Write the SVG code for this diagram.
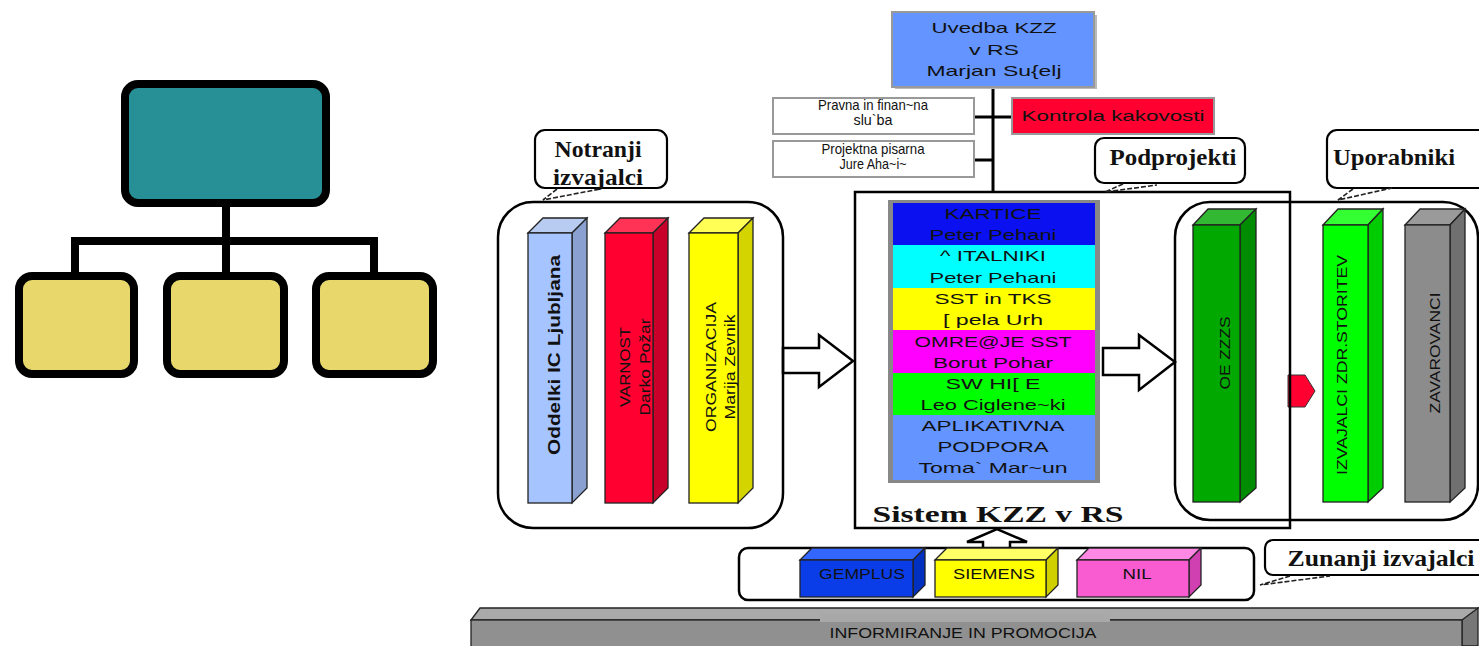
<svg xmlns="http://www.w3.org/2000/svg" width="1479" height="646" viewBox="0 0 1479 646">
<style>
.t{font-family:"Liberation Sans",Arial,sans-serif;fill:#111;font-size:15px}
.tb{font-family:"Liberation Sans",Arial,sans-serif;fill:#111;font-size:16px;font-weight:bold}
.s{font-family:"Liberation Serif","Times New Roman",serif;font-weight:bold;fill:#111;font-size:24px}
.bubble{fill:#fff;stroke:#000;stroke-width:2.2}
.tail{fill:none;stroke:#222;stroke-width:1.6;stroke-dasharray:5 2}
.ln{stroke:#000;stroke-width:3;fill:none}
.blk{stroke:#222;stroke-width:1.3}
.icon{stroke:#000;stroke-width:8}
.arrow{fill:#fff;stroke:#000;stroke-width:2.5;stroke-linejoin:miter}
.cont{fill:none;stroke:#000;stroke-width:2.5}
.box{stroke:#999;stroke-width:2}
</style>

<!-- Left org-chart icon -->
<g id="icon">
  <g class="icon" fill="none">
    <line x1="226" y1="205" x2="226" y2="272"/>
    <polyline points="75,272 75,241 374,241 374,272"/>
  </g>
  <rect x="125" y="84" width="201" height="119" rx="13" fill="#278F96" class="icon"/>
  <rect x="22" y="279" width="115" height="98" rx="13" fill="#555" opacity="0.35"/>
  <rect x="170" y="279" width="117" height="98" rx="13" fill="#555" opacity="0.35"/>
  <rect x="319" y="279" width="117" height="98" rx="13" fill="#555" opacity="0.35"/>
  <rect x="19" y="276" width="115" height="98" rx="13" fill="#E8D86C" class="icon"/>
  <rect x="167" y="276" width="117" height="98" rx="13" fill="#E8D86C" class="icon"/>
  <rect x="316" y="276" width="117" height="98" rx="13" fill="#E8D86C" class="icon"/>
</g>

<!-- Connectors -->
<g id="connectors">
  <line class="ln" x1="993" y1="87" x2="993" y2="192"/>
  <line class="ln" x1="974" y1="117" x2="1012" y2="117"/>
  <line class="ln" x1="974" y1="160" x2="993" y2="160"/>
  <polygon class="arrow" points="783,348 819,348 819,335 853,361 819,387 819,373 783,373"/>
  <polygon class="arrow" points="1103,348 1139,348 1139,335 1175,362 1139,390 1139,375 1103,375"/>
  <polygon class="arrow" points="983,549 983,542 967,542 997,529 1027,542 1010,542 1010,549"/>
  <polygon points="1288,375 1305,375 1315,391 1305,407 1288,407" fill="#FF0030" stroke="#333" stroke-width="1"/>
</g>

<!-- Top box -->
<g id="uvedba">
  <rect x="895" y="15" width="202" height="74" fill="#bbb"/>
  <rect x="892" y="12" width="202" height="75" fill="#6394FF" class="box"/>
  <text class="t" font-size="14" x="994" y="33" text-anchor="middle" textLength="125" lengthAdjust="spacingAndGlyphs">Uvedba KZZ</text>
  <text class="t" font-size="14" x="994" y="55" text-anchor="middle" textLength="50" lengthAdjust="spacingAndGlyphs">v RS</text>
  <text class="t" font-size="14" x="994" y="76" text-anchor="middle" textLength="135" lengthAdjust="spacingAndGlyphs">Marjan Su{elj</text>
</g>

<g id="pravna">
  <rect x="773" y="98" width="201" height="36" fill="#fff" class="box"/>
  <text class="t" font-size="9" x="873" y="110" text-anchor="middle" textLength="110" lengthAdjust="spacingAndGlyphs">Pravna in finan~na</text>
  <text class="t" font-size="9" x="873" y="125" text-anchor="middle" textLength="39" lengthAdjust="spacingAndGlyphs">slu`ba</text>
</g>

<g id="pisarna">
  <rect x="773" y="141" width="201" height="36" fill="#fff" class="box"/>
  <text class="t" font-size="9" x="873" y="154" text-anchor="middle" textLength="103" lengthAdjust="spacingAndGlyphs">Projektna pisarna</text>
  <text class="t" font-size="9" x="873" y="169" text-anchor="middle" textLength="67" lengthAdjust="spacingAndGlyphs">Jure Aha~i~</text>
</g>

<g id="kontrola">
  <rect x="1012" y="98" width="202" height="36" fill="#FF0030" class="box"/>
  <text class="t" font-size="14" x="1113" y="121" text-anchor="middle" textLength="183" lengthAdjust="spacingAndGlyphs">Kontrola kakovosti</text>
</g>

<!-- Notranji izvajalci -->
<g id="notranji-callout">
  <rect class="bubble" x="535" y="130" width="132" height="58" rx="10"/>
  <path class="tail" d="M557,189 L543,200 L600,189"/>
  <text class="s" x="598" y="157" text-anchor="middle" textLength="87" lengthAdjust="spacingAndGlyphs">Notranji</text>
  <text class="s" x="598" y="185" text-anchor="middle" textLength="90" lengthAdjust="spacingAndGlyphs">izvajalci</text>
</g>

<g id="notranji">
  <rect class="cont" x="498" y="202" width="285" height="326" rx="35"/>
  <g class="blk">
    <polygon points="528,233 543,218 587,218 572,233" fill="#B8CCF2"/>
    <polygon points="572,233 587,218 587,488 572,503" fill="#8AA0D0"/>
    <rect x="528" y="233" width="44" height="270" fill="#A6C4FF"/>
  </g>
  <text class="tb" transform="translate(560,355) rotate(-90)" text-anchor="middle" textLength="200" lengthAdjust="spacingAndGlyphs">Oddelki IC Ljubljana</text>
</g>

<g id="varnost">
  <g class="blk">
    <polygon points="605,233 620,218 668,218 653,233" fill="#FF3355"/>
    <polygon points="653,233 668,218 668,488 653,503" fill="#C8002A"/>
    <rect x="605" y="233" width="48" height="270" fill="#FF0030"/>
  </g>
  <text class="t" transform="translate(630,367) rotate(-90)" text-anchor="middle" textLength="80" lengthAdjust="spacingAndGlyphs">VARNOST</text>
  <text class="t" transform="translate(650,367) rotate(-90)" text-anchor="middle" textLength="97" lengthAdjust="spacingAndGlyphs">Darko Požar</text>
</g>

<g id="organizacija">
  <g class="blk">
    <polygon points="689,233 704,218 753,218 738,233" fill="#FFFF55"/>
    <polygon points="738,233 753,218 753,488 738,503" fill="#D4D400"/>
    <rect x="689" y="233" width="49" height="270" fill="#FFFF00"/>
  </g>
  <text class="t" transform="translate(716,367) rotate(-90)" text-anchor="middle" textLength="130" lengthAdjust="spacingAndGlyphs">ORGANIZACIJA</text>
  <text class="t" transform="translate(735,367) rotate(-90)" text-anchor="middle" textLength="105" lengthAdjust="spacingAndGlyphs">Marija Zevnik</text>
</g>

<!-- Sistem KZZ v RS -->
<g id="sistem">
  <rect class="cont" x="855" y="192" width="435" height="336"/>
  <rect x="888" y="200" width="212" height="283" fill="#888"/>
  <rect x="893" y="203" width="202" height="42" fill="#0A10F0"/>
  <rect x="893" y="245" width="202" height="43" fill="#00FFFF"/>
  <rect x="893" y="288" width="202" height="42" fill="#FFFF00"/>
  <rect x="893" y="330" width="202" height="43" fill="#FF00FF"/>
  <rect x="893" y="373" width="202" height="42" fill="#00FF00"/>
  <rect x="893" y="415" width="202" height="65" fill="#6394FF"/>
  <g text-anchor="middle">
    <text class="t" x="993" y="219" textLength="97" lengthAdjust="spacingAndGlyphs">KARTICE</text>
    <text class="t" x="993" y="240" textLength="127" lengthAdjust="spacingAndGlyphs">Peter Pehani</text>
    <text class="t" x="993" y="261" textLength="106" lengthAdjust="spacingAndGlyphs">^ ITALNIKI</text>
    <text class="t" x="993" y="283" textLength="127" lengthAdjust="spacingAndGlyphs">Peter Pehani</text>
    <text class="t" x="993" y="304" textLength="117" lengthAdjust="spacingAndGlyphs">SST in TKS</text>
    <text class="t" x="993" y="325" textLength="100" lengthAdjust="spacingAndGlyphs">[ pela Urh</text>
    <text class="t" x="993" y="347" textLength="157" lengthAdjust="spacingAndGlyphs">OMRE@JE SST</text>
    <text class="t" x="993" y="368" textLength="120" lengthAdjust="spacingAndGlyphs">Borut Pohar</text>
    <text class="t" x="993" y="389" textLength="95" lengthAdjust="spacingAndGlyphs">SW HI[ E</text>
    <text class="t" x="993" y="410" textLength="145" lengthAdjust="spacingAndGlyphs">Leo Ciglene~ki</text>
    <text class="t" x="993" y="431" textLength="143" lengthAdjust="spacingAndGlyphs">APLIKATIVNA</text>
    <text class="t" x="993" y="452" textLength="111" lengthAdjust="spacingAndGlyphs">PODPORA</text>
    <text class="t" x="993" y="473" textLength="149" lengthAdjust="spacingAndGlyphs">Toma`  Mar~un</text>
  </g>
  <text class="s" font-size="33" x="998" y="522" text-anchor="middle" textLength="251" lengthAdjust="spacingAndGlyphs">Sistem KZZ v RS</text>
</g>

<g id="podprojekti-callout">
  <rect class="bubble" x="1095" y="138" width="150" height="45" rx="9"/>
  <path class="tail" d="M1123,184 L1105,192 L1157,185"/>
  <text class="s" x="1173" y="165" text-anchor="middle" textLength="127" lengthAdjust="spacingAndGlyphs">Podprojekti</text>
</g>

<!-- Uporabniki -->
<g id="uporabniki-callout">
  <rect class="bubble" x="1327" y="130" width="170" height="58" rx="10"/>
  <path class="tail" d="M1353,189 L1338,200 L1392,188"/>
  <text class="s" x="1394" y="165" text-anchor="middle" textLength="122" lengthAdjust="spacingAndGlyphs">Uporabniki</text>
</g>

<g id="uporabniki">
  <rect class="cont" x="1175" y="202" width="303" height="318" rx="35"/>
</g>

<g id="oe-zzzs">
  <g class="blk">
    <polygon points="1193,225 1208,209 1256,209 1240,225" fill="#33B833"/>
    <polygon points="1240,225 1256,209 1256,488 1240,502" fill="#008C00"/>
    <rect x="1193" y="225" width="47" height="277" fill="#00A800"/>
  </g>
  <text class="t" transform="translate(1230,353) rotate(-90)" text-anchor="middle" textLength="73" lengthAdjust="spacingAndGlyphs">OE ZZZS</text>
</g>

<g id="izvajalci">
  <g class="blk">
    <polygon points="1323,225 1338,209 1383,209 1368,225" fill="#33FF33"/>
    <polygon points="1368,225 1383,209 1383,488 1368,502" fill="#00CC00"/>
    <rect x="1323" y="225" width="45" height="277" fill="#00FF00"/>
  </g>
  <text class="t" transform="translate(1347,365) rotate(-90)" text-anchor="middle" textLength="220" lengthAdjust="spacingAndGlyphs">IZVAJALCI ZDR.STORITEV</text>
</g>

<g id="zavarovanci">
  <g class="blk">
    <polygon points="1405,225 1420,209 1465,209 1450,225" fill="#9A9A9A"/>
    <polygon points="1450,225 1465,209 1465,488 1450,502" fill="#707070"/>
    <rect x="1405" y="225" width="45" height="277" fill="#8C8C8C"/>
  </g>
  <text class="t" transform="translate(1440,353) rotate(-90)" text-anchor="middle" textLength="121" lengthAdjust="spacingAndGlyphs">ZAVAROVANCI</text>
</g>

<!-- Zunanji izvajalci -->
<g id="zunanji">
  <rect class="cont" x="739" y="548" width="515" height="52" rx="9"/>
</g>

<g id="gemplus">
  <g class="blk">
    <polygon points="800,560 812,548 925,548 913,560" fill="#3366FF"/>
    <polygon points="913,560 925,548 925,585 913,597" fill="#0030C0"/>
    <rect x="800" y="560" width="113" height="37" fill="#0A3DE8"/>
  </g>
  <text class="t" font-size="16" x="862" y="579" text-anchor="middle" textLength="86" lengthAdjust="spacingAndGlyphs">GEMPLUS</text>
</g>

<g id="siemens">
  <g class="blk">
    <polygon points="935,560 947,548 1058,548 1046,560" fill="#FFFF66"/>
    <polygon points="1046,560 1058,548 1058,585 1046,597" fill="#D0D000"/>
    <rect x="935" y="560" width="111" height="37" fill="#FFFF00"/>
  </g>
  <text class="t" font-size="16" x="994" y="579" text-anchor="middle" textLength="82" lengthAdjust="spacingAndGlyphs">SIEMENS</text>
</g>

<g id="nil">
  <g class="blk">
    <polygon points="1077,560 1089,548 1201,548 1189,560" fill="#FF88E4"/>
    <polygon points="1189,560 1201,548 1201,585 1189,597" fill="#D040B0"/>
    <rect x="1077" y="560" width="112" height="37" fill="#F85CD0"/>
  </g>
  <text class="t" font-size="16" x="1137" y="579" text-anchor="middle" textLength="29" lengthAdjust="spacingAndGlyphs">NIL</text>
</g>

<g id="zunanji-callout">
  <rect class="bubble" x="1265" y="540" width="232" height="35" rx="8"/>
  <path class="tail" d="M1290,576 L1260,585 L1330,576"/>
  <text class="s" x="1381" y="566" text-anchor="middle" textLength="187" lengthAdjust="spacingAndGlyphs">Zunanji izvajalci</text>
</g>

<!-- Informiranje in promocija -->
<g id="informiranje">
  <g class="blk">
    <polygon points="471,620 480,608 1478,608 1470,620" fill="#AAAAAA"/>
    <polygon points="1462,620 1478,608 1478,646 1462,646" fill="#777"/>
    <rect x="471" y="620" width="991" height="30" fill="#909090"/>
  </g>
  <rect x="820" y="614" width="290" height="8" fill="#A8A8A8"/>
  <text class="t" font-size="16" x="963" y="638" text-anchor="middle" textLength="267" lengthAdjust="spacingAndGlyphs">INFORMIRANJE IN PROMOCIJA</text>
</g>
</svg>
